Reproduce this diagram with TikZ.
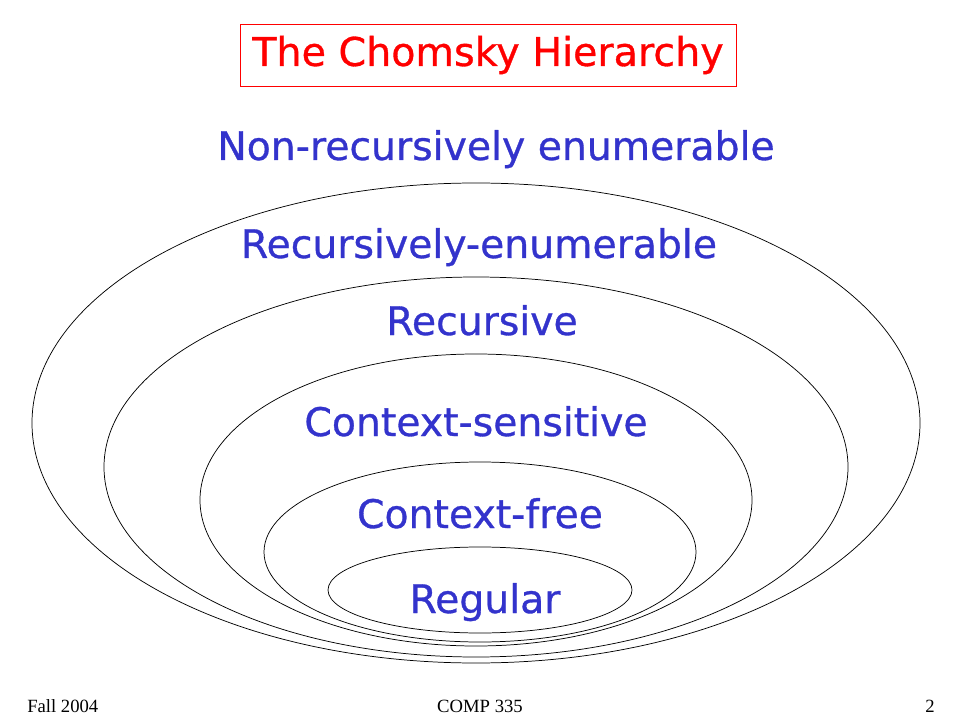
\documentclass[tikz,border=0pt]{standalone}
\usepackage{fontspec}
\setmainfont{Liberation Serif}
\newfontfamily\labelfam[FakeBold=0.8]{DejaVu Sans}
\usetikzlibrary{positioning}
\definecolor{setblue}{HTML}{3333CC}
\definecolor{titlered}{HTML}{FF0000}

\begin{document}
\begin{tikzpicture}[x=0.75pt,y=-0.75pt]
\tikzset{
  setline/.style={draw=black,line width=0.55pt},
  setlabel/.style={anchor=base,inner sep=0pt,text=setblue,font=\labelfam\fontsize{29.5pt}{34pt}\selectfont},
  titlebox/.style={draw=titlered,line width=0.6pt,text=titlered,inner sep=0pt,
    minimum width=372pt,minimum height=46.5pt,font=\labelfam\fontsize{29.7pt}{34pt}\selectfont},
  footer/.style={anchor=base,inner sep=0pt,font=\fontsize{14pt}{16pt}\selectfont}
}
\useasboundingbox (0,0) rectangle (960,720);
% nested language classes
\draw[setline] (476,423) ellipse [x radius=444,y radius=240];
\draw[setline] (476,467) ellipse [x radius=372,y radius=190];
\draw[setline] (476,500) ellipse [x radius=276,y radius=146];
\draw[setline] (480,552) ellipse [x radius=216,y radius=90];
\draw[setline] (480,590) ellipse [x radius=152,y radius=43];
% title and labels
\node[titlebox] (n_title) at (488,55) {The Chomsky Hierarchy};
\node[setlabel] (n_nonre) at (496,160) {Non-recursively enumerable};
\node[setlabel] (n_re) at (479,258) {Recursively-enumerable};
\node[setlabel] (n_rec) at (482,335) {Recursive};
\node[setlabel] (n_cs) at (476,436) {Context-sensitive};
\node[setlabel] (n_cf) at (480,528) {Context-free};
\node[setlabel] (n_reg) at (485,613) {Regular};
% footer
\node[footer,anchor=base west] (n_date) at (27,712) {Fall 2004};
\node[footer] (n_course) at (480,712) {COMP 335};
\node[footer] (n_page) at (930,712) {2};
\end{tikzpicture}
\end{document}
